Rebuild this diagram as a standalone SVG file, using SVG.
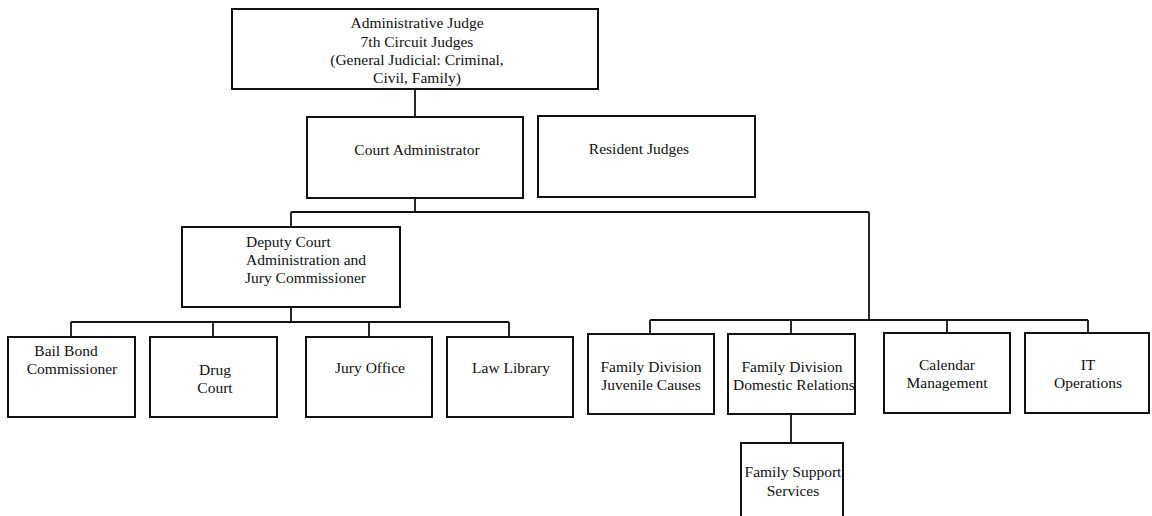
<svg xmlns="http://www.w3.org/2000/svg" width="1152" height="516" viewBox="0 0 1152 516">
<style>
.box{fill:#fff;stroke:#111;stroke-width:2}
.lbl{font-family:"Liberation Serif","Times New Roman",serif;font-size:15.5px;fill:#111;text-anchor:middle}
.left{text-anchor:start}
.conn{fill:none;stroke:#111;stroke-width:1.8}
</style>
<rect width="1152" height="516" fill="#fff"/>
<g id="connectors" class="conn">
<path d="M415 89V117"/>
<path d="M415 198V212"/>
<path d="M291 212H869"/>
<path d="M291 212V227"/>
<path d="M869 212V320"/>
<path d="M291 307V322"/>
<path d="M71 322H509"/>
<path d="M71 322V337M213 322V337M369 322V337M509 322V337"/>
<path d="M650 320H1088"/>
<path d="M650 320V334M791 320V334M947 320V333M1088 320V333"/>
<path d="M791 414V443"/>
</g>
<g id="admin-judge">
<rect class="box" x="232" y="9" width="366" height="80"/>
<text class="lbl" x="417" y="28">Administrative Judge</text>
<text class="lbl" x="417" y="47">7th Circuit Judges</text>
<text class="lbl" x="417" y="65">(General Judicial: Criminal,</text>
<text class="lbl" x="417" y="83">Civil, Family)</text>
</g>
<g id="court-admin">
<rect class="box" x="307" y="117" width="216" height="81"/>
<text class="lbl" x="417" y="155">Court Administrator</text>
</g>
<g id="resident-judges">
<rect class="box" x="538" y="116" width="217" height="81"/>
<text class="lbl" x="639" y="154">Resident Judges</text>
</g>
<g id="deputy">
<rect class="box" x="182" y="227" width="218" height="80"/>
<text class="lbl left" x="246" y="247">Deputy Court</text>
<text class="lbl left" x="246" y="265">Administration and</text>
<text class="lbl left" x="245" y="283">Jury Commissioner</text>
</g>
<g id="bail-bond">
<rect class="box" x="8" y="337" width="127" height="80"/>
<text class="lbl" x="66" y="356">Bail Bond</text>
<text class="lbl" x="72" y="374">Commissioner</text>
</g>
<g id="drug-court">
<rect class="box" x="150" y="337" width="127" height="80"/>
<text class="lbl" x="215" y="375">Drug</text>
<text class="lbl" x="215" y="393">Court</text>
</g>
<g id="jury-office">
<rect class="box" x="306" y="337" width="126" height="80"/>
<text class="lbl" x="370" y="373">Jury Office</text>
</g>
<g id="law-library">
<rect class="box" x="447" y="337" width="126" height="80"/>
<text class="lbl" x="511" y="373">Law Library</text>
</g>
<g id="juvenile">
<rect class="box" x="588" y="334" width="126" height="80"/>
<text class="lbl" x="651" y="372">Family Division</text>
<text class="lbl" x="651" y="390">Juvenile Causes</text>
</g>
<g id="domestic">
<rect class="box" x="728" y="334" width="127" height="80"/>
<text class="lbl" x="792" y="372">Family Division</text>
<text class="lbl" x="794" y="390">Domestic Relations</text>
</g>
<g id="calendar">
<rect class="box" x="884" y="333" width="126" height="80"/>
<text class="lbl" x="947" y="370">Calendar</text>
<text class="lbl" x="947" y="388">Management</text>
</g>
<g id="it-ops">
<rect class="box" x="1025" y="333" width="124" height="80"/>
<text class="lbl" x="1088" y="370">IT</text>
<text class="lbl" x="1088" y="388">Operations</text>
</g>
<g id="family-support">
<rect class="box" x="741" y="443" width="102" height="80"/>
<text class="lbl" x="793" y="477">Family Support</text>
<text class="lbl" x="793" y="496">Services</text>
</g>
</svg>
